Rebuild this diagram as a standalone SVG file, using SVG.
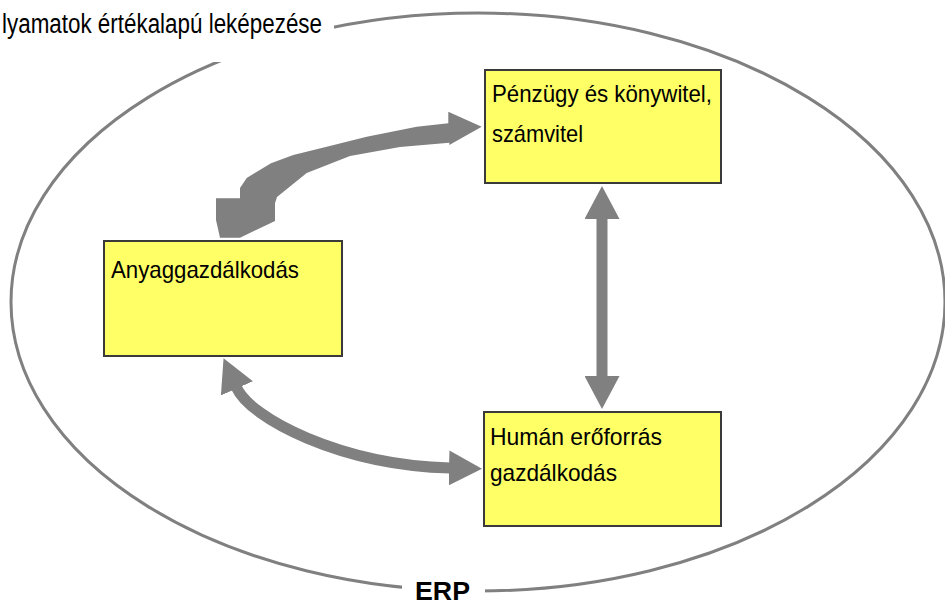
<svg xmlns="http://www.w3.org/2000/svg" width="945" height="605" viewBox="0 0 945 605">
<style>
.box{fill:#FFFF66;stroke:#3a3a3a;stroke-width:2}
.t{font-family:"Liberation Sans",Arial,sans-serif;font-size:24px;fill:#000}
.conn{fill:none;stroke:#808080}
.ell{fill:none;stroke:#808080;stroke-width:3}
</style>
<defs>
<marker id="head" viewBox="0 -17.5 33 35" refX="1" refY="0" markerWidth="33" markerHeight="35" markerUnits="userSpaceOnUse" orient="auto-start-reverse">
<path d="M0,-17.5 L33,0 L0,17.5 Z" fill="#808080"/>
</marker>
</defs>
<rect width="945" height="605" fill="#fff"/>
<g id="erp">
<ellipse class="ell" cx="478" cy="302" rx="467" ry="289"/>
<rect x="0" y="0" width="334" height="62" fill="#fff"/>
<rect x="402" y="570" width="83" height="35" fill="#fff"/>
<text x="2" y="33" font-family="Liberation Sans,Arial,sans-serif" font-size="27" textLength="320" lengthAdjust="spacingAndGlyphs">lyamatok értékalapú leképezése</text>
<text x="415" y="600" font-family="Liberation Sans,Arial,sans-serif" font-size="26" font-weight="bold" textLength="55" lengthAdjust="spacingAndGlyphs">ERP</text>
</g>
<g id="connectors">
<path d="M481.7,126.7 L448.3,111.7 L448.3,123.3 L416.7,126.7 L366.7,136.7 L326.7,146.7 L293.3,155 L271,163.3 L246.7,178 L240,188 L240,198.3 L216,198.3 L216,220 L220,237.7 L240,237.7 L275,221 L275,203.3 L277,197 L306.7,173 L350,156 L400,147 L449.3,142.7 L449.3,145 Z" fill="#808080"/>
<path class="conn" stroke-width="11" d="M236.5,387.5 C250,418 340,465 450,468" marker-start="url(#head)" marker-end="url(#head)"/>
<path class="conn" stroke-width="11" d="M602,218 L602,377" marker-start="url(#head)" marker-end="url(#head)"/>
</g>
<g id="penzugy">
<rect class="box" x="485" y="70" width="236" height="113"/>
<text class="t" x="492" y="102" textLength="220" lengthAdjust="spacingAndGlyphs">Pénzügy és könywitel,</text>
<text class="t" x="492" y="142" textLength="91" lengthAdjust="spacingAndGlyphs">számvitel</text>
</g>
<g id="anyag">
<rect class="box" x="104" y="241" width="238" height="115"/>
<text class="t" x="111" y="278" textLength="188" lengthAdjust="spacingAndGlyphs">Anyaggazdálkodás</text>
</g>
<g id="human">
<rect class="box" x="484" y="412" width="237" height="114"/>
<text class="t" x="490" y="445" textLength="172" lengthAdjust="spacingAndGlyphs">Humán erőforrás</text>
<text class="t" x="490" y="481" textLength="127" lengthAdjust="spacingAndGlyphs">gazdálkodás</text>
</g>
</svg>
